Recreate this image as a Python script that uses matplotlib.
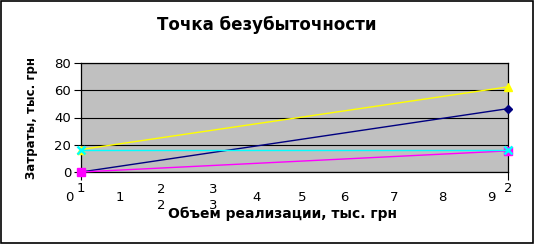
import matplotlib
matplotlib.use("Agg")
import matplotlib.pyplot as plt
from matplotlib.patches import Rectangle

plt.rcParams['font.family'] = ['DejaVu Sans']

# ---- data ----
categories = [1, 2]
cat_labels = ["1", "2"]
series_navy = [0, 46.5]
series_yellow = [16.5, 62.5]
series_magenta = [0, 15.5]
series_cyan = [16.5, 16.5]
y_ticks = [0, 20, 40, 60, 80]
# stray category labels as rendered in the original
extra_labels = ["0", "1", "2\n2", "3\n3", "4", "5", "6", "7", "8", "9"]
extra_pos = [-0.028, 0.091, 0.189, 0.309, 0.412, 0.518, 0.616, 0.733, 0.845, 0.960]

title = "Точка безубыточности"
xlabel = "Объем реализации, тыс. грн"
ylabel = "Затраты, тыс. грн"

W, H = 534, 244
fig = plt.figure(figsize=(W / 100, H / 100), dpi=100)
ax = fig.add_axes([81 / W, 1 - 172 / H, (508 - 81) / W, (172 - 63) / H])
ax.set_facecolor("#C0C0C0")

lw = 1.0
ax.plot(categories, series_navy, color="#000080", lw=lw, marker="D", ms=4.5,
        clip_on=False, zorder=3)
ax.plot(categories, series_yellow, color="#FFFF00", lw=lw, marker="^", ms=6,
        clip_on=False, zorder=4)
ax.plot(categories, series_magenta, color="#FF00FF", lw=lw, marker="s", ms=6,
        clip_on=False, zorder=5)
ax.plot(categories, series_cyan, color="#00FFFF", lw=lw, marker="x", ms=6,
        mew=1.8, clip_on=False, zorder=6)

ax.set_xlim(categories[0], categories[-1])
ax.set_ylim(0, 80)
ax.set_yticks(y_ticks)
ax.yaxis.grid(True, color="black", lw=0.8)
ax.set_axisbelow(True)
for s in ax.spines.values():
    s.set_color("black")
    s.set_linewidth(0.9)

ax.tick_params(axis="y", direction="out", length=5, width=0.8, labelsize=9.5,
               pad=2)
ax.set_xticks(categories)
ax.set_xticklabels(cat_labels)
ax.tick_params(axis="x", direction="out", length=6, width=0.8, labelsize=9.5,
               pad=1.5)

for t, p in zip(extra_labels, extra_pos):
    ax.text(p, -0.235, t, transform=ax.transAxes, ha="center", va="center",
            fontsize=9.5, linespacing=1.25)

fig.text(267 / W, 1 - 25 / H, title, ha="center", va="center",
         fontsize=12, fontweight="bold")
fig.text(282 / W, 1 - 214 / H, xlabel, ha="center", va="center",
         fontsize=10, fontweight="bold")
fig.text(31 / W, 1 - 118 / H, ylabel, ha="center", va="center",
         fontsize=8.5, fontweight="bold", rotation=90)

fig.patches.append(Rectangle((0.5 / W, 1.0 / H), (W - 1.5) / W, (H - 2) / H,
                             transform=fig.transFigure, fill=False,
                             edgecolor="black", lw=1.2))

fig.savefig("out.png", dpi=100)
